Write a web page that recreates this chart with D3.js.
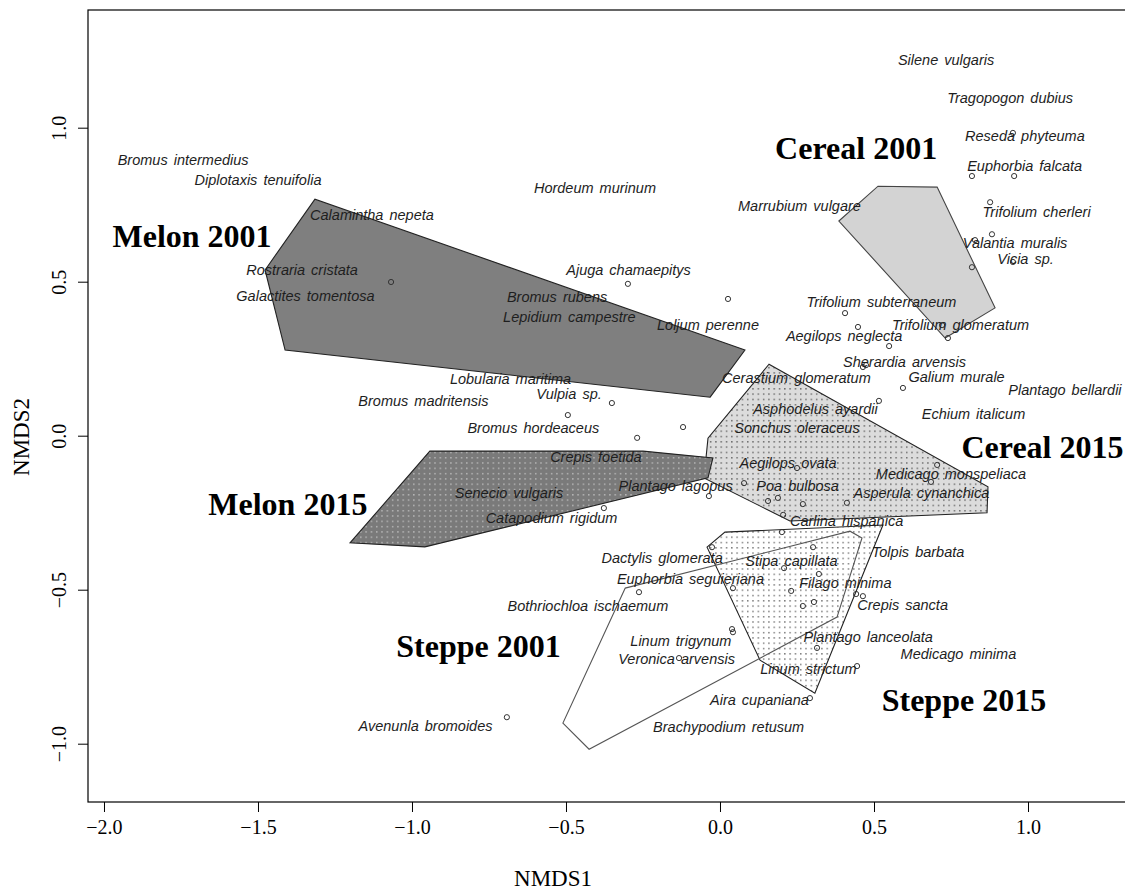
<!DOCTYPE html>
<html>
<head>
<meta charset="utf-8">
<script src="https://d3js.org/d3.v7.min.js"></script>
<style>
  body { margin: 0; background: #fff; }
</style>
</head>
<body>
<div id="graphDiv"></div>
<script>
// species labels (NMDS1, NMDS2)
var speciesNames = ["Silene vulgaris", "Tragopogon dubius", "Reseda phyteuma", "Euphorbia falcata",
  "Trifolium cherleri", "Valantia muralis", "Vicia sp.", "Marrubium vulgare", "Hordeum murinum",
  "Bromus intermedius", "Diplotaxis tenuifolia", "Calamintha nepeta", "Rostraria cristata",
  "Galactites tomentosa", "Ajuga chamaepitys", "Bromus rubens", "Lepidium campestre", "Loljum perenne",
  "Trifolium subterraneum", "Trifolium glomeratum", "Aegilops neglecta", "Sherardia arvensis",
  "Galium murale", "Plantago bellardii", "Echium italicum", "Cerastium glomeratum", "Asphodelus ayardii",
  "Sonchus oleraceus", "Aegilops ovata", "Poa bulbosa", "Medicago monspeliaca", "Asperula cynanchica",
  "Carlina hispanica", "Tolpis barbata", "Stipa capillata", "Filago minima", "Crepis sancta",
  "Plantago lanceolata", "Medicago minima", "Linum strictum", "Aira cupaniana", "Brachypodium retusum",
  "Linum trigynum", "Veronica arvensis", "Bothriochloa ischaemum", "Avenunla bromoides",
  "Dactylis glomerata", "Euphorbia seguieriana", "Senecio vulgaris", "Catapodium rigidum",
  "Crepis foetida", "Plantago lagopus", "Bromus hordeaceus", "Vulpia sp.", "Lobularia maritima",
  "Bromus madritensis"];
var speciesX = [0.734, 0.942, 0.990, 0.989, 1.028, 0.958, 0.992, 0.258, -0.406, -1.743, -1.500, -1.130,
  -1.357, -1.346, -0.297, -0.529, -0.489, -0.039, 0.524, 0.781, 0.403, 0.599, 0.768, 1.120, 0.823, 0.248,
  0.310, 0.250, 0.221, 0.252, 0.750, 0.654, 0.411, 0.643, 0.232, 0.407, 0.593, 0.481, 0.774, 0.287,
  0.128, 0.028, -0.127, -0.141, -0.429, -0.956, -0.188, -0.096, -0.685, -0.547, -0.403, -0.144, -0.606,
  -0.490, -0.680, -0.963];
var speciesY = [1.220, 1.096, 0.973, 0.876, 0.726, 0.625, 0.573, 0.746, 0.804, 0.895, 0.830, 0.717,
  0.538, 0.454, 0.538, 0.450, 0.385, 0.359, 0.434, 0.359, 0.324, 0.239, 0.190, 0.148, 0.070, 0.187,
  0.087, 0.025, -0.089, -0.163, -0.124, -0.186, -0.277, -0.378, -0.406, -0.478, -0.550, -0.654, -0.709,
  -0.758, -0.859, -0.946, -0.667, -0.725, -0.553, -0.943, -0.398, -0.466, -0.186, -0.267, -0.069,
  -0.163, 0.025, 0.135, 0.184, 0.113];

// site points (open circles)
var siteX = [-1.068, -0.299, 0.026, 0.951, 0.818, 0.955, 0.877, 0.883, 0.828, 0.818, 0.951, -0.351,
  -0.494, -0.120, -0.269, -0.377, -0.036, 0.078, 0.156, 0.188, 0.269, 0.412, 0.250, 0.406, 0.448, 0.549,
  0.464, 0.594, 0.516, 0.740, 0.721, 0.705, 0.685, 0.205, 0.201, -0.026, 0.302, 0.208, 0.321, 0.042,
  0.231, 0.305, 0.269, 0.442, 0.464, 0.039, 0.042, 0.315, 0.445, 0.292, -0.133, -0.692, -0.263, 0.474];
var siteY = [0.499, 0.493, 0.444, 0.983, 0.843, 0.843, 0.758, 0.654, 0.635, 0.547, 0.564, 0.106, 0.067,
  0.028, -0.007, -0.235, -0.196, -0.154, -0.212, -0.202, -0.222, -0.218, -0.105, 0.398, 0.353, 0.291,
  0.223, 0.155, 0.113, 0.317, 0.359, -0.095, -0.150, -0.257, -0.313, -0.362, -0.362, -0.430, -0.449,
  -0.495, -0.504, -0.540, -0.553, -0.514, -0.521, -0.628, -0.638, -0.689, -0.748, -0.852, -0.722,
  -0.914, -0.508, 0.229];

// convex hulls of the groups
var hullCereal2015 = [[0.159, 0.232], [-0.039, -0.008], [-0.052, -0.137], [0.227, -0.277], [0.867, -0.250], [0.870, -0.166]];
var hullMelon2001 = [[-1.315, 0.768], [-1.477, 0.538], [-1.412, 0.278], [-0.032, 0.125], [0.081, 0.278]];
var hullMelon2015 = [[-0.942, -0.050], [-0.250, -0.050], [-0.023, -0.072], [-0.039, -0.137], [-0.958, -0.361], [-1.201, -0.348]];
var hullCereal2001 = [[0.386, 0.697], [0.513, 0.810], [0.705, 0.807], [0.893, 0.415], [0.731, 0.317]];
var hullSteppe2015 = [[0.016, -0.313], [0.529, -0.290], [0.308, -0.836], [0.130, -0.729], [-0.042, -0.362]];
var hullSteppe2001 = [[-0.308, -0.495], [0.422, -0.310], [0.461, -0.332], [0.380, -0.589], [-0.425, -1.018], [-0.510, -0.933]];

var groupNames = ["Melon 2001", "Cereal 2001", "Melon 2015", "Cereal 2015", "Steppe 2001", "Steppe 2015"];
var groupX = [-1.714, 0.442, -1.403, 1.047, -0.784, 0.792];
var groupY = [0.648, 0.934, -0.222, -0.037, -0.683, -0.858];

var xTicks = [-2.0, -1.5, -1.0, -0.5, 0.0, 0.5, 1.0];
var yTicks = [-1.0, -0.5, 0.0, 0.5, 1.0];

// the right side of the box runs just past the picture edge
var margin = {top: 10, right: -2, bottom: 90, left: 88},
    width = 1125 - margin.left - margin.right,
    height = 892 - margin.top - margin.bottom;

var svg = d3.select("#graphDiv")
  .append("svg")
    .attr("width", 1125)
    .attr("height", 892)
  .append("g")
    .attr("transform", "translate(" + margin.left + "," + margin.top + ")");

var x = d3.scaleLinear()
  .domain([-2.0519, 1.3214])
  .range([0, width]);

var y = d3.scaleLinear()
  .domain([-1.1893, 1.3821])
  .range([height, 0]);

// dot patterns for the 2015 hulls
var defs = svg.append("defs");
function dotPattern(id, bg, dot) {
  var p = defs.append("pattern")
    .attr("id", id)
    .attr("patternUnits", "userSpaceOnUse")
    .attr("width", 5.3)
    .attr("height", 5.3);
  p.append("rect").attr("width", 5.3).attr("height", 5.3).attr("fill", bg);
  p.append("rect").attr("x", 2).attr("y", 2).attr("width", 1.1).attr("height", 1.1).attr("fill", dot);
}
dotPattern("dotsLight", "#dcdcdc", "#111");
dotPattern("dotsDark", "#7a7a7a", "#e8e8e8");
dotPattern("dotsWhite", "#ffffff", "#111");

var line = d3.line()
  .x(function (d) { return x(d[0]); })
  .y(function (d) { return y(d[1]); })
  .curve(d3.curveLinearClosed);

var hulls = [
  {pts: hullCereal2015, fill: "url(#dotsLight)", stroke: "#222"},
  {pts: hullMelon2001, fill: "#7f7f7f", stroke: "#222"},
  {pts: hullMelon2015, fill: "url(#dotsDark)", stroke: "#222"},
  {pts: hullCereal2001, fill: "#d3d3d3", stroke: "#444"},
  {pts: hullSteppe2015, fill: "url(#dotsWhite)", stroke: "#222"},
  {pts: hullSteppe2001, fill: "none", stroke: "#555"}
];

svg.append("g")
  .selectAll("path")
  .data(hulls)
  .enter()
  .append("path")
    .attr("d", function (d) { return line(d.pts); })
    .attr("fill", function (d) { return d.fill; })
    .attr("stroke", function (d) { return d.stroke; })
    .attr("stroke-width", 1.1);

// site points
svg.append("g")
  .selectAll("circle")
  .data(siteX)
  .enter()
  .append("circle")
    .attr("cx", function (d) { return x(d); })
    .attr("cy", function (d, i) { return y(siteY[i]); })
    .attr("r", 2.6)
    .attr("fill", "none")
    .attr("stroke", "#333")
    .attr("stroke-width", 1);

// species names
svg.append("g")
  .selectAll("text")
  .data(speciesNames)
  .enter()
  .append("text")
    .attr("x", function (d, i) { return x(speciesX[i]); })
    .attr("y", function (d, i) { return y(speciesY[i]); })
    .attr("dy", "0.36em")
    .style("text-anchor", "middle")
    .style("font-family", "'Liberation Sans', Arial, sans-serif")
    .style("font-style", "italic")
    .style("font-size", "14.5px")
    .style("word-spacing", "2px")
    .attr("fill", "#1e1e1e")
    .text(function (d) { return d; });

// group labels
svg.append("g")
  .selectAll("text")
  .data(groupNames)
  .enter()
  .append("text")
    .attr("x", function (d, i) { return x(groupX[i]); })
    .attr("y", function (d, i) { return y(groupY[i]); })
    .attr("dy", "0.34em")
    .style("text-anchor", "middle")
    .style("font-family", "'Liberation Serif', 'Times New Roman', serif")
    .style("font-weight", "bold")
    .style("font-size", "32px")
    .attr("fill", "#000")
    .text(function (d) { return d; });

// box
svg.append("rect")
  .attr("width", width)
  .attr("height", height)
  .attr("fill", "none")
  .attr("stroke", "#000")
  .attr("stroke-width", 1.2);

// X axis
var xAxis = svg.append("g")
  .attr("transform", "translate(0," + height + ")")
  .call(d3.axisBottom(x).tickValues(xTicks).tickSize(10).tickPadding(8).tickFormat(d3.format(".1f")));
xAxis.select(".domain").remove();

// Y axis
var yAxis = svg.append("g")
  .call(d3.axisLeft(y).tickValues(yTicks).tickSize(10).tickFormat(d3.format(".1f")));
yAxis.select(".domain").remove();
yAxis.selectAll(".tick text")
  .attr("x", null)
  .attr("dy", null)
  .attr("transform", "translate(-22,0) rotate(-90)")
  .style("text-anchor", "middle");

svg.selectAll(".tick text")
  .style("font-family", "'Liberation Serif', 'Times New Roman', serif")
  .style("font-size", "20px")
  .attr("fill", "#000");
xAxis.selectAll(".tick text").attr("dy", "0.71em");
svg.selectAll(".tick line").attr("stroke", "#000");

// axis titles
svg.append("text")
  .attr("x", 553 - margin.left)
  .attr("y", 886 - margin.top)
  .style("text-anchor", "middle")
  .style("font-family", "'Liberation Serif', 'Times New Roman', serif")
  .style("font-size", "23px")
  .text("NMDS1");

svg.append("text")
  .attr("transform", "translate(" + (29 - margin.left) + "," + (437 - margin.top) + ") rotate(-90)")
  .style("text-anchor", "middle")
  .style("font-family", "'Liberation Serif', 'Times New Roman', serif")
  .style("font-size", "23px")
  .text("NMDS2");
</script>
</body>
</html>
